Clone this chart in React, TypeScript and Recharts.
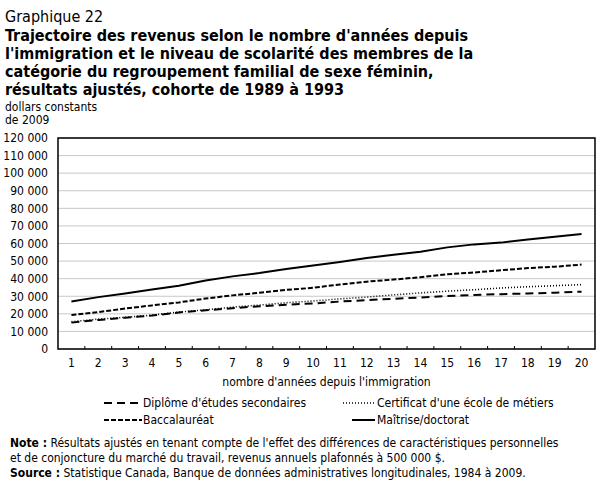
import React from "react";
import { CartesianGrid, Line, LineChart, ReferenceArea, XAxis, YAxis } from "recharts";

const years = [1, 2, 3, 4, 5, 6, 7, 8, 9, 10, 11, 12, 13, 14, 15, 16, 17, 18, 19, 20];

const secondaire = [15000, 16500, 17800, 19000, 20800, 22000, 23200, 24300, 25200, 25900, 27000, 27800, 28600, 29300, 30200, 30700, 31200, 31600, 32000, 32600];
const metiers = [15500, 17000, 18000, 19200, 21000, 22300, 23800, 25000, 26300, 27300, 28500, 29500, 30800, 31900, 32900, 33700, 34700, 35400, 36000, 36600];
const baccalaureat = [19300, 21000, 23000, 24800, 26500, 28700, 30500, 32000, 33600, 34800, 36700, 38300, 39500, 40800, 42500, 43500, 44800, 46000, 46800, 48000];
const maitrise = [27000, 29500, 31500, 33800, 36000, 39000, 41300, 43200, 45500, 47500, 49500, 51800, 53600, 55300, 57800, 59500, 60500, 62300, 63900, 65400];

const yTicks = [0, 10000, 20000, 30000, 40000, 50000, 60000, 70000, 80000, 90000, 100000, 110000, 120000];

// integer positions carry labels, half positions carry the small inner tick marks
const xTicks = years.flatMap((y) => (y < 20 ? [y, y + 0.5] : [y]));

const data = years.map((year, i) => ({
  year,
  secondaire: secondaire[i],
  metiers: metiers[i],
  baccalaureat: baccalaureat[i],
  maitrise: maitrise[i],
}));

const FONT = "'DejaVu Sans Condensed', 'DejaVu Sans', sans-serif";

const series = [
  { key: "secondaire", label: "Diplôme d'études secondaires", dash: "8 5", width: 2 },
  { key: "metiers", label: "Certificat d'une école de métiers", dash: "1 2", width: 1.6 },
  { key: "baccalaureat", label: "Baccalauréat", dash: "5 2", width: 2 },
  { key: "maitrise", label: "Maîtrise/doctorat", dash: undefined, width: 2 },
];

const fmt = (v: number) => String(v).replace(/\B(?=(\d{3})+(?!\d))/g, " ");

function XTick(props: any) {
  const { x, y, payload } = props;
  const v = payload.value as number;
  if (Number.isInteger(v)) {
    return (
      <text x={x} y={y + 18} textAnchor="middle" fontSize={12} fontFamily={FONT} fill="#000">
        {v}
      </text>
    );
  }
  return <line x1={x} x2={x} y1={y} y2={y - 3} stroke="#000" strokeWidth={1} />;
}

function Swatch({ dash, width, w }: { dash?: string; width: number; w: number }) {
  return (
    <svg width={w} height={8} style={{ display: "block" }}>
      <line x1={0} x2={w} y1={4} y2={4} stroke="#000" strokeWidth={width} strokeDasharray={dash} />
    </svg>
  );
}

function LegendItem({ s, left, top, sw, w }: { s: (typeof series)[number]; left: number; top: number; sw: number; w: number }) {
  return (
    <div style={{ position: "absolute", left, top, display: "flex", alignItems: "center", height: 15 }}>
      <div style={{ position: "absolute", left: sw - left, top: 4 }}>
        <Swatch dash={s.dash} width={s.width} w={w} />
      </div>
      <span>{s.label}</span>
    </div>
  );
}

export default function App() {
  return (
    <div
      style={{
        position: "absolute",
        left: 0,
        top: 0,
        width: 607,
        height: 493,
        background: "#fff",
        fontFamily: FONT,
        color: "#000",
        overflow: "hidden",
      }}
    >
      <div style={{ position: "absolute", left: 5, top: 8, fontSize: 16, lineHeight: "18px" }}>Graphique 22</div>
      <div style={{ position: "absolute", left: 5, top: 27, fontSize: 16, lineHeight: "18px", fontWeight: "bold", width: 600 }}>
        Trajectoire des revenus selon le nombre d'années depuis
        <br />
        l'immigration et le niveau de scolarité des membres de la
        <br />
        catégorie du regroupement familial de sexe féminin,
        <br />
        résultats ajustés, cohorte de 1989 à 1993
      </div>
      <div style={{ position: "absolute", left: 5, top: 101, fontSize: 12, lineHeight: "13px" }}>
        dollars constants
        <br />
        de 2009
      </div>

      <div style={{ position: "absolute", left: 0, top: 0 }}>
        <LineChart width={607} height={400} data={data} margin={{ top: 138, right: 12, bottom: 31, left: 0 }}>
          <CartesianGrid horizontal vertical={false} stroke="#c8c8c8" />
          <XAxis
            dataKey="year"
            type="number"
            domain={[0.5, 20.5]}
            ticks={xTicks}
            interval={0}
            tickLine={false}
            tickSize={0}
            tickMargin={0}
            axisLine={false}
            height={20}
            tick={<XTick />}
          />
          <YAxis
            domain={[0, 120000]}
            ticks={yTicks}
            interval={0}
            width={58}
            tickLine={false}
            axisLine={false}
            tickSize={0}
            tickMargin={10}
            tickFormatter={fmt}
            tick={{ fontSize: 12, fontFamily: FONT, fill: "#000" }}
          />
          <ReferenceArea x1={0.5} x2={20.5} y1={0} y2={120000} fill="none" stroke="#000" strokeWidth={1.5} ifOverflow="visible" />
          {series.map((s) => (
            <Line
              key={s.key}
              type="linear"
              dataKey={s.key}
              stroke="#000"
              strokeWidth={s.width}
              strokeDasharray={s.dash}
              dot={false}
              activeDot={false}
              isAnimationActive={false}
            />
          ))}
        </LineChart>
      </div>

      <div style={{ position: "absolute", left: 58, width: 537, top: 375, textAlign: "center", fontSize: 12 }}>
        nombre d'années depuis l'immigration
      </div>

      <div style={{ fontSize: 12 }}>
        <LegendItem s={series[0]} left={143} top={395} sw={104} w={38} />
        <LegendItem s={series[1]} left={377} top={395} sw={343} w={32} />
        <LegendItem s={series[2]} left={143} top={412} sw={104} w={38} />
        <LegendItem s={series[3]} left={377} top={412} sw={352} w={23} />
      </div>

      <div style={{ position: "absolute", left: 10, top: 436, fontSize: 12, lineHeight: "15px" }}>
        <b>Note :</b> Résultats ajustés en tenant compte de l'effet des différences de caractéristiques personnelles
        <br />
        et de conjoncture du marché du travail, revenus annuels plafonnés à 500 000 $.
      </div>
      <div style={{ position: "absolute", left: 10, top: 466, fontSize: 12, lineHeight: "15px" }}>
        <b>Source :</b> Statistique Canada, Banque de données administratives longitudinales, 1984 à 2009.
      </div>
    </div>
  );
}
